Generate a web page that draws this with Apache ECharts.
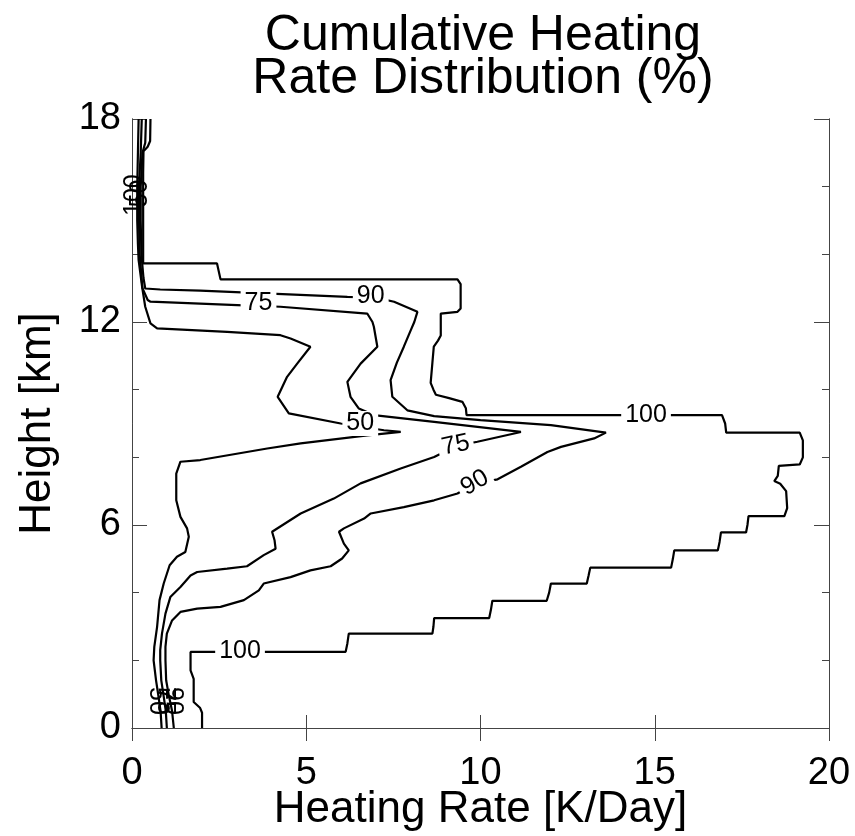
<!DOCTYPE html>
<html>
<head>
<meta charset="utf-8">
<script src="https://cdn.jsdelivr.net/npm/echarts@6/dist/echarts.min.js"></script>
<style>
  html, body { margin: 0; padding: 0; background: #fff; }
  #chart { width: 855px; height: 836px; }
</style>
</head>
<body>
<div id="chart"></div>
<script>
// contour lines: [heating rate K/day, height km]
let c50 = [[0.19,18.0],[0.17,17],[0.15,16],[0.15,15],[0.17,14.3],[0.19,13.83],[0.29,13.04],[0.38,12.45],[0.53,11.96],[0.72,11.81],[2.73,11.71],[4.26,11.61],[4.55,11.51],[5.12,11.27],[4.74,10.77],[4.45,10.38],[4.18,9.79],[4.5,9.3],[5.99,9.0],[7.23,8.8],[7.71,8.75],[6.75,8.65],[4.84,8.41],[3.88,8.26],[1.96,7.92],[1.39,7.87],[1.27,7.52],[1.27,6.73],[1.39,6.24],[1.58,5.9],[1.63,5.65],[1.53,5.2],[1.29,5.06],[1.08,4.81],[0.91,4.27],[0.79,3.78],[0.72,2.99],[0.64,2.4],[0.62,2.0],[0.69,1.41],[0.75,1.0],[0.82,0.5],[0.85,0]];
let c75 = [[0.28,18.0],[0.25,17],[0.2,16],[0.2,15],[0.22,14],[0.3,13.0],[0.45,12.65],[0.53,12.6],[3.02,12.5],[4.26,12.45],[6.75,12.25],[6.9,12.0],[6.94,11.86],[7.04,11.27],[6.56,10.77],[6.18,10.23],[6.27,9.79],[6.51,9.44],[6.94,9.25],[8.67,9.05],[11.16,8.75],[9.91,8.46],[9.29,8.33],[8.67,8.01],[7.71,7.67],[6.56,7.23],[5.79,6.78],[4.84,6.34],[4.02,5.8],[4.09,5.55],[4.12,5.3],[3.78,5.11],[3.3,4.78],[2.73,4.71],[1.87,4.61],[1.68,4.51],[1.39,4.17],[1.1,3.87],[0.96,3.38],[0.86,2.79],[0.81,2.3],[0.81,2.0],[0.84,1.41],[0.9,1.0],[0.97,0.5],[1.0,0]];
let c90 = [[0.4,18.0],[0.38,17.3],[0.3,17.0],[0.25,16],[0.25,15],[0.27,14],[0.33,13.3],[0.38,12.99],[0.81,12.96],[1.96,12.93],[6.18,12.74],[7.0,12.72],[7.52,12.6],[8.19,12.3],[8.1,12.0],[8.0,11.76],[7.8,11.27],[7.6,10.8],[7.42,10.28],[7.47,9.79],[7.9,9.39],[8.67,9.22],[10.0,9.1],[12.02,8.95],[13.6,8.73],[13.26,8.56],[12.31,8.31],[11.92,8.16],[11.16,7.72],[10.49,7.35],[9.82,7.22],[9.34,6.93],[8.67,6.73],[7.8,6.53],[6.85,6.34],[6.66,6.19],[6.08,5.9],[5.94,5.8],[6.08,5.45],[6.22,5.25],[6.03,5.01],[5.7,4.78],[5.12,4.66],[4.55,4.46],[3.78,4.27],[3.64,4.07],[3.21,3.78],[2.54,3.58],[1.87,3.53],[1.39,3.43],[1.15,3.18],[1.0,2.79],[0.96,2.4],[0.96,2.0],[0.98,1.41],[1.05,1.0],[1.15,0.5],[1.2,0]];
let c100 = [[0.53,18.0],[0.52,17.35],[0.45,17.18],[0.33,17.05],[0.32,16.4],[0.32,13.73],[2.44,13.73],[2.5,13.45],[2.54,13.26],[9.34,13.26],[9.43,13.12],[9.43,12.4],[9.34,12.3],[8.86,12.25],[8.86,11.6],[8.78,11.45],[8.66,11.27],[8.62,10.8],[8.57,10.2],[8.65,10.0],[8.72,9.85],[9.1,9.75],[9.48,9.64],[9.58,9.45],[9.6,9.25],[16.93,9.25],[17.02,9.0],[17.05,8.73],[19.16,8.73],[19.25,8.5],[19.25,8.0],[19.16,7.79],[18.56,7.75],[18.53,7.45],[18.43,7.3],[18.6,7.22],[18.77,7.0],[18.8,6.5],[18.72,6.26],[17.69,6.26],[17.66,6.0],[17.62,5.78],[16.9,5.78],[16.86,5.5],[16.81,5.25],[15.56,5.25],[15.52,5.0],[15.47,4.74],[13.15,4.74],[13.1,4.5],[13.05,4.27],[12.02,4.27],[11.97,4.0],[11.9,3.76],[10.34,3.76],[10.3,3.5],[10.25,3.25],[8.67,3.25],[8.65,3.0],[8.62,2.79],[6.22,2.79],[6.18,2.5],[6.13,2.25],[1.68,2.25],[1.68,1.7],[1.77,1.45],[1.77,0.77],[1.95,0.6],[2.01,0.45],[2.01,0]];

// inline contour labels
let labelText = ['100', '100', '90', '75', '50', '75', '90'];
let labelX = [14.75, 3.1, 6.85, 3.63, 6.55, 9.29, 9.84];
let labelY = [9.25, 2.28, 12.78, 12.55, 9.0, 8.36, 7.25];
let labelRotate = [0, 0, 0, 0, 0, 12, 30];

// crowded labels next to the y axis (drawn over the lines)
let edgeText = ['100', '50', '50', '75', '90'];
let edgeX = [0.05, 0.22, 0.72, 0.95, 1.17];
let edgeY = [15.75, 15.8, 0.8, 0.8, 0.8];
let edgeRotate = [90, 90, -90, -90, -90];

let font = 'Liberation Sans, Arial, Helvetica, sans-serif';
let chart = echarts.init(document.getElementById('chart'));

function contour(name, data) {
    return {
        name: name, type: 'line', data: data, symbol: 'none',
        lineStyle: {color: '#000', width: 2.2}, z: 2, animation: false
    };
}

function labelSeries(text, xs, ys, rot, bg) {
    return {
        type: 'scatter', symbolSize: 0, clip: false, z: 5, animation: false,
        itemStyle: {opacity: 1},
        data: text.map(function (t, i) {
            return {
                value: [xs[i], ys[i]],
                label: {
                    show: true, position: 'inside', formatter: t, rotate: rot[i],
                    color: '#000', opacity: 1, fontSize: 25, fontFamily: font,
                    backgroundColor: bg, padding: bg ? [0, 4] : 0
                }
            };
        })
    };
}

let axisLine = {show: true, lineStyle: {color: '#444', width: 1}};
let tickStyle = {color: '#444', width: 1};

function yAxisFor(pos, interval, len, main) {
    return {
        type: 'value', min: 0, max: 18, interval: interval, position: pos,
        name: main ? 'Height [km]' : '', nameLocation: 'middle', nameGap: 72,
        nameMoveOverlap: false,
        nameTextStyle: {fontSize: 44, color: '#000', fontFamily: font},
        axisLine: axisLine,
        axisTick: {show: true, inside: true, length: len, lineStyle: tickStyle},
        axisLabel: {show: main, fontSize: 38, color: '#000', fontFamily: font, margin: 11},
        splitLine: {show: false}
    };
}

let option = {
    backgroundColor: '#fff',
    title: {
        text: 'Cumulative Heating\nRate Distribution (%)',
        left: 478, top: 10, textAlign: 'center',
        textStyle: {fontSize: 50, fontWeight: 'normal', color: '#000', fontFamily: font, lineHeight: 43}
    },
    grid: {left: 132, right: 26, top: 119, bottom: 108, outerBoundsMode: 'none', containLabel: false},
    xAxis: [{
        type: 'value', min: 0, max: 20, interval: 5, position: 'bottom',
        name: 'Heating Rate [K/Day]', nameLocation: 'middle', nameGap: 60,
        nameMoveOverlap: false,
        nameTextStyle: {fontSize: 44, color: '#000', fontFamily: font},
        axisLine: axisLine,
        axisTick: {show: true, inside: true, length: 13, lineStyle: tickStyle},
        axisLabel: {fontSize: 38, color: '#000', fontFamily: font, margin: 27},
        splitLine: {show: false}
    }, {
        type: 'value', min: 0, max: 20, interval: 5, position: 'top',
        axisLine: axisLine,
        axisTick: {show: true, inside: true, length: 13, lineStyle: tickStyle},
        axisLabel: {show: false},
        splitLine: {show: false}
    }],
    yAxis: [
        yAxisFor('left', 6, 15, true),
        yAxisFor('left', 2, 7, false),
        yAxisFor('right', 6, 15, false),
        yAxisFor('right', 2, 7, false)
    ],
    series: [
        contour('50', c50),
        contour('75', c75),
        contour('90', c90),
        contour('100', c100),
        labelSeries(labelText, labelX, labelY, labelRotate, '#fff'),
        labelSeries(edgeText, edgeX, edgeY, edgeRotate, null)
    ]
};

chart.setOption(option);
</script>
</body>
</html>
